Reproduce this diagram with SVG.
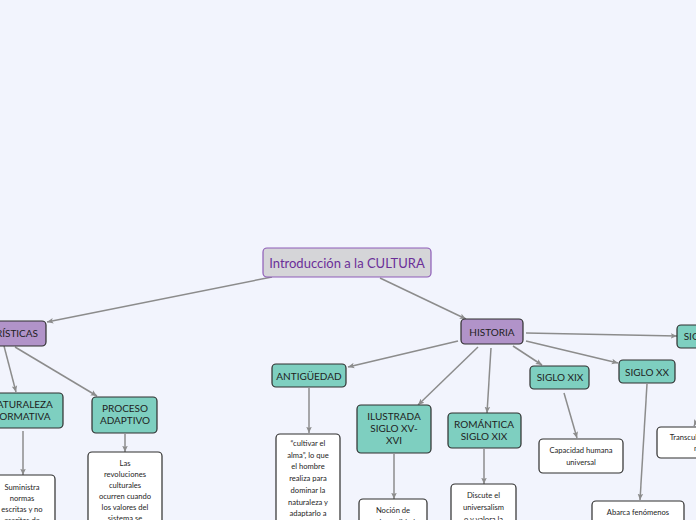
<svg xmlns="http://www.w3.org/2000/svg" width="696" height="520" viewBox="0 0 696 520">
<defs>
<marker id="arr" viewBox="0 0 10 10" refX="9" refY="5" markerWidth="7" markerHeight="7" orient="auto" markerUnits="userSpaceOnUse">
<path d="M0,1 L9,5 L0,9 L2,5 Z" fill="#8c8c8c"/>
</marker>
<style>
.c{stroke:#8c8c8c;stroke-width:1.5;fill:none;marker-end:url(#arr)}
.root rect{fill:#d5d5d8;stroke:#8e5cb8;stroke-width:1.2}
.root text{fill:#6b2f98;font-size:13px}
.p rect{fill:#b193c9;stroke:#2e2e2e;stroke-width:1.2}
.t rect{fill:#7ecfc0;stroke:#2e2e2e;stroke-width:1.2}
.w rect{fill:#ffffff;stroke:#2e2e2e;stroke-width:1.2}
text{font-family:Lato,"Open Sans","DejaVu Sans",sans-serif;fill:#1e1e1e;text-anchor:middle}
.p text,.t text{font-size:10px}
.w text{font-size:7.6px}
</style>
</defs>
<rect width="696" height="520" fill="#f2f4fd"/>
<g id="connectors">
<line class="c" x1="272" y1="277" x2="47" y2="322"/>
<line class="c" x1="380" y1="278" x2="466" y2="319"/>
<line class="c" x1="4" y1="346" x2="16" y2="392"/>
<line class="c" x1="15" y1="347" x2="97" y2="396"/>
<line class="c" x1="23" y1="431" x2="23" y2="475"/>
<line class="c" x1="125" y1="434" x2="125" y2="452"/>
<line class="c" x1="526" y1="333" x2="677" y2="336"/>
<line class="c" x1="526" y1="341" x2="618" y2="363"/>
<line class="c" x1="513" y1="346" x2="542" y2="365"/>
<line class="c" x1="491" y1="348" x2="487" y2="413"/>
<line class="c" x1="478" y1="347" x2="418" y2="405"/>
<line class="c" x1="458" y1="341" x2="348" y2="367"/>
<line class="c" x1="309" y1="388" x2="309" y2="433"/>
<line class="c" x1="394" y1="454" x2="394" y2="499"/>
<line class="c" x1="484" y1="449" x2="484" y2="484"/>
<line class="c" x1="564" y1="393" x2="577" y2="438"/>
<line class="c" x1="647" y1="384" x2="640" y2="500"/>
<line class="c" x1="730" y1="350" x2="694" y2="426"/>
</g>
<g id="root" class="root">
<rect x="263" y="248" width="168" height="29" rx="4"/>
<text x="347" y="267.5">Introducción a la CULTURA</text>
</g>
<g id="caracteristicas" class="p">
<rect x="-70" y="321" width="116" height="25" rx="4"/>
<text x="38" y="337" style="text-anchor:end">CARACTERÍSTICAS</text>
</g>
<g id="naturaleza" class="t">
<rect x="-20" y="393" width="83" height="35" rx="4"/>
<text x="21" y="408">NATURALEZA</text>
<text x="21" y="420">NORMATIVA</text>
</g>
<g id="proceso" class="t">
<rect x="92" y="397" width="65" height="36" rx="4"/>
<text x="125" y="412">PROCESO</text>
<text x="125" y="424">ADAPTIVO</text>
</g>
<g id="suministra" class="w">
<rect x="-11" y="475" width="66" height="60" rx="4"/>
<text x="22" y="490">Suministra</text>
<text x="22" y="501">normas</text>
<text x="22" y="512">escritas y no</text>
<text x="22" y="523">escritas de</text>
</g>
<g id="revoluciones" class="w">
<rect x="88" y="452" width="74" height="80" rx="4"/>
<text x="125" y="466">Las</text>
<text x="125" y="477">revoluciones</text>
<text x="125" y="488">culturales</text>
<text x="125" y="499">ocurren cuando</text>
<text x="125" y="510">los valores del</text>
<text x="125" y="521">sistema se</text>
</g>
<g id="historia" class="p">
<rect x="461" y="319" width="62" height="25" rx="4"/>
<text x="492" y="335.5">HISTORIA</text>
</g>
<g id="antiguedad" class="t">
<rect x="272" y="364" width="74" height="23" rx="4"/>
<text x="309" y="379.5">ANTIGÜEDAD</text>
</g>
<g id="ilustrada" class="t">
<rect x="357" y="405" width="74" height="48" rx="4"/>
<text x="394" y="419.5">ILUSTRADA</text>
<text x="394" y="431.5">SIGLO XV-</text>
<text x="394" y="443.5">XVI</text>
</g>
<g id="romantica" class="t">
<rect x="448" y="413" width="73" height="35" rx="4"/>
<text x="484" y="428">ROMÁNTICA</text>
<text x="484" y="440">SIGLO XIX</text>
</g>
<g id="sigloxix" class="t">
<rect x="530" y="366" width="59" height="23" rx="4"/>
<text x="560" y="381">SIGLO XIX</text>
</g>
<g id="sigloxx" class="t">
<rect x="619" y="360" width="56" height="23" rx="4"/>
<text x="647" y="375.5">SIGLO XX</text>
</g>
<g id="sigloxxi" class="t">
<rect x="677" y="325" width="60" height="23" rx="4"/>
<text x="707" y="340">SIGLO XXI</text>
</g>
<g id="cultivar" class="w">
<rect x="276" y="434" width="64" height="100" rx="4"/>
<text x="308" y="446">“cultivar el</text>
<text x="308" y="457.7">alma”, lo que</text>
<text x="308" y="469.4">el hombre</text>
<text x="308" y="481.1">realiza para</text>
<text x="308" y="492.8">dominar la</text>
<text x="308" y="504.5">naturaleza y</text>
<text x="308" y="516.2">adaptarlo a</text>
</g>
<g id="nocion" class="w">
<rect x="359" y="499" width="68" height="40" rx="4"/>
<text x="393" y="513">Noción de</text>
<text x="393" y="525">universalidad</text>
</g>
<g id="discute" class="w">
<rect x="451" y="484" width="65" height="50" rx="4"/>
<text x="483.5" y="498">Discute el</text>
<text x="483.5" y="510">universalism</text>
<text x="483.5" y="522">o y valora la</text>
</g>
<g id="capacidad" class="w">
<rect x="539" y="439" width="84" height="34" rx="4"/>
<text x="581" y="453">Capacidad humana</text>
<text x="581" y="465">universal</text>
</g>
<g id="abarca" class="w">
<rect x="592" y="501" width="92" height="30" rx="4"/>
<text x="638" y="515">Abarca fenómenos</text>
</g>
<g id="transcul" class="w">
<rect x="657" y="427" width="80" height="31" rx="4"/>
<text x="697" y="440">Transculturación</text>
<text x="697" y="451">m</text>
</g>
</svg>
